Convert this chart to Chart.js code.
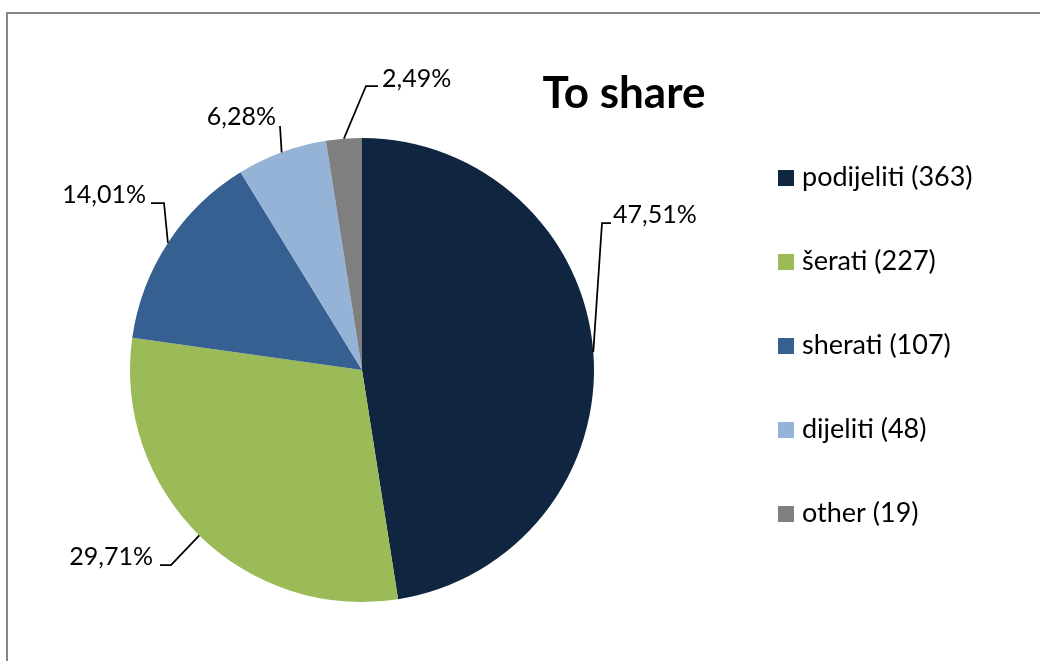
<!DOCTYPE html>
<html>
<head>
<meta charset="utf-8">
<script src="https://cdn.jsdelivr.net/npm/chart.js@4/dist/chart.umd.min.js"></script>
<style>
  html, body { margin: 0; padding: 0; background: #fff; }
  canvas { display: block; }
</style>
</head>
<body>
<canvas id="shareChart" width="1040" height="661"></canvas>
<script>
const chartTitle = "To share";
const categories = ["podijeliti", "šerati", "sherati", "dijeliti", "other"];
const counts = [363, 227, 107, 48, 19];
const sliceColors = ["#10253F", "#9BBB59", "#376092", "#95B3D7", "#7F7F7F"];

const FONT = "Lato, 'Liberation Sans', sans-serif";

// where each percentage label sits: text anchor, baseline, elbow of the leader line
const labelSpots = [
    { align: "left", x: 613, base: 223, elbow: [602, 223], end: [611, 223] },
    { align: "right", x: 153, base: 565, elbow: [171, 565], end: [160, 565] },
    { align: "right", x: 146, base: 203, elbow: [164, 203], end: [151, 203] },
    { align: "right", x: 276, base: 125, elbow: [280, 126], end: [280, 126] },
    { align: "left", x: 382, base: 87, elbow: [366, 86], end: [378, 86] }
];

const total = counts.reduce((a, b) => a + b, 0);
const pctText = (v) => (v / total * 100).toFixed(2).replace(".", ",") + "%";

const decorations = {
    id: "decorations",
    afterDraw(chart) {
        const ctx = chart.ctx;
        const arcs = chart.getDatasetMeta(0).data;
        ctx.save();

        // outer frame
        ctx.strokeStyle = "#868686";
        ctx.lineWidth = 2;
        ctx.beginPath();
        ctx.moveTo(7, 661);
        ctx.lineTo(7, 13);
        ctx.lineTo(1040, 13);
        ctx.stroke();

        // title
        ctx.fillStyle = "#000";
        ctx.font = "bold 44px " + FONT;
        ctx.textAlign = "center";
        ctx.textBaseline = "alphabetic";
        ctx.fillText(chartTitle, 624, 108);

        // percentage labels with leader lines
        ctx.font = "25px " + FONT;
        ctx.strokeStyle = "#000";
        ctx.lineWidth = 1.75;
        arcs.forEach((arc, i) => {
            const s = labelSpots[i];
            const mid = (arc.startAngle + arc.endAngle) / 2;
            const ex = arc.x + Math.cos(mid) * arc.outerRadius;
            const ey = arc.y + Math.sin(mid) * arc.outerRadius;
            ctx.beginPath();
            ctx.moveTo(ex, ey);
            ctx.lineTo(s.elbow[0], s.elbow[1]);
            ctx.lineTo(s.end[0], s.end[1]);
            ctx.stroke();
            ctx.textAlign = s.align;
            ctx.fillText(pctText(counts[i]), s.x, s.base);
        });

        // legend
        ctx.font = "27px " + FONT;
        ctx.textAlign = "left";
        categories.forEach((name, i) => {
            const base = 186 + i * 84;
            ctx.fillStyle = sliceColors[i];
            ctx.fillRect(778, base - 16, 16, 16);
            ctx.fillStyle = "#000";
            ctx.fillText(name + " (" + counts[i] + ")", 802, base);
        });

        ctx.restore();
    }
};

new Chart(document.getElementById("shareChart"), {
    type: "pie",
    data: {
        labels: categories,
        datasets: [
            {
                data: counts,
                backgroundColor: sliceColors,
                borderWidth: 0
            }
        ]
    },
    options: {
        responsive: false,
        animation: false,
        layout: {
            padding: { left: 130, right: 446, top: 138, bottom: 59 }
        },
        plugins: {
            legend: { display: false },
            title: { display: false },
            tooltip: { enabled: false }
        }
    },
    plugins: [decorations]
});
</script>
</body>
</html>
